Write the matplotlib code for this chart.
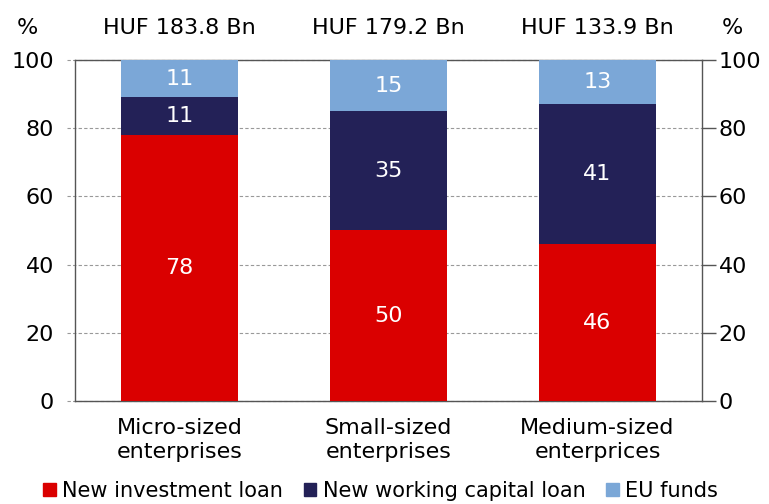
import matplotlib.pyplot as plt
import matplotlib.transforms as mtransforms
from matplotlib.patches import Patch

categories = ['Micro-sized\nenterprises', 'Small-sized\nenterprises', 'Medium-sized\nenterprices']
totals = ['HUF 183.8 Bn', 'HUF 179.2 Bn', 'HUF 133.9 Bn']
investment = [78, 50, 46]
working_capital = [11, 35, 41]
eu_funds = [11, 15, 13]

c_inv = '#DA0000'
c_wc = '#232157'
c_eu = '#7BA7D7'

plt.rcParams['font.family'] = ['DejaVu Sans']
plt.rcParams['font.size'] = 16

fig = plt.figure(figsize=(7.69, 5.04), dpi=100)
ax = fig.add_axes([0.0975, 0.2044, 0.8154, 0.6766])

x = list(range(len(categories)))
w = 0.56
ax.bar(x, investment, w, color=c_inv, zorder=3)
ax.bar(x, working_capital, w, bottom=investment, color=c_wc, zorder=3)
bottom2 = [a + b for a, b in zip(investment, working_capital)]
ax.bar(x, eu_funds, w, bottom=bottom2, color=c_eu, zorder=3)

for i in x:
    ax.text(i, investment[i] / 2, str(investment[i]), ha='center', va='center', color='white', zorder=4)
    ax.text(i, investment[i] + working_capital[i] / 2, str(working_capital[i]), ha='center', va='center', color='white', zorder=4)
    ax.text(i, bottom2[i] + eu_funds[i] / 2, str(eu_funds[i]), ha='center', va='center', color='white', zorder=4)
    ax.text(i, 106.5, totals[i], ha='center', va='bottom', fontsize=16)

ax.set_xlim(-0.5, 2.5)
ax.set_ylim(0, 100)
ax.set_xticks(x)
ax.set_xticklabels(categories, linespacing=1.3)
ax.tick_params(axis='x', length=0, pad=12)
ax.set_yticks([0, 20, 40, 60, 80, 100])
ax.tick_params(axis='y', length=0, pad=15)

# dashed grid lines reaching out past the left spine
tr = mtransforms.blended_transform_factory(ax.transAxes, ax.transData)
for yv in [0, 20, 40, 60, 80, 100]:
    ax.plot([-0.013, 1.0], [yv, yv], transform=tr, color='#999999', lw=0.8,
            ls=(0, (3, 2)), clip_on=False, zorder=1)

for s in ['top', 'bottom', 'left', 'right']:
    ax.spines[s].set_color('#555555')
    ax.spines[s].set_linewidth(1.0)

ax2 = ax.twinx()
ax2.set_ylim(0, 100)
ax2.set_yticks([0, 20, 40, 60, 80, 100])
ax2.tick_params(axis='y', length=10, width=1.0, color='#555555', pad=2)
for s in ['top', 'bottom', 'left', 'right']:
    ax2.spines[s].set_visible(False)

fig.text(0.036, 0.944, '%', ha='center', va='center', fontsize=16)
fig.text(0.953, 0.944, '%', ha='center', va='center', fontsize=16)

handles = [Patch(color=c_inv, label='New investment loan'),
           Patch(color=c_wc, label='New working capital loan'),
           Patch(color=c_eu, label='EU funds')]
fig.legend(handles=handles, loc='center', bbox_to_anchor=(0.495, 0.026), ncol=3, frameon=False,
           handlelength=0.6, handleheight=0.6, handletextpad=0.3, columnspacing=1.0, fontsize=15,
           borderpad=0.2)

fig.savefig('out.png', dpi=100)
